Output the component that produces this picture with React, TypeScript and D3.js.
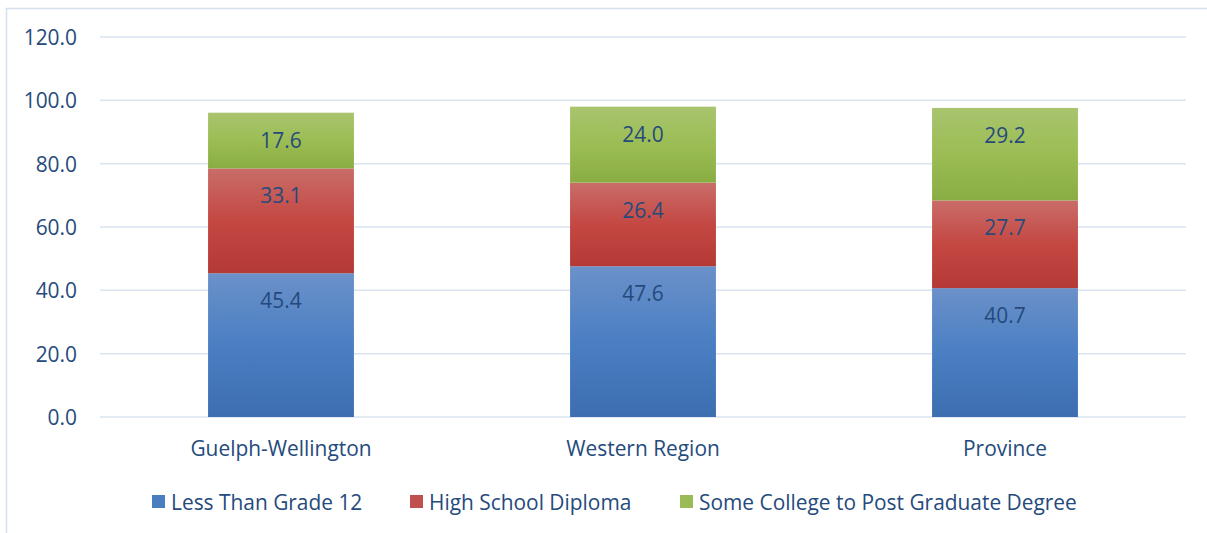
import React from "react";
import * as d3 from "d3";

const categories = ["Guelph-Wellington", "Western Region", "Province"];
const seriesNames = ["Less Than Grade 12", "High School Diploma", "Some College to Post Graduate Degree"];
const lessThanGrade12 = [45.4, 47.6, 40.7];
const highSchoolDiploma = [33.1, 26.4, 27.7];
const someCollege = [17.6, 24.0, 29.2];
const yTicks = [0, 20, 40, 60, 80, 100, 120];

const seriesValues = [lessThanGrade12, highSchoolDiploma, someCollege];
const gradients = [
  { id: "gBlue", top: "#6b91c9", mid: "#4a7fc3", bot: "#3c6eb0", legend: "#4a7ebf" },
  { id: "gRed", top: "#c96d69", mid: "#c44742", bot: "#b43a36", legend: "#c0504d" },
  { id: "gGreen", top: "#a9c46e", mid: "#9bbd54", bot: "#8aad43", legend: "#9bbb59" },
];

const W = 1207;
const H = 533;
const FONT = "'Open Sans', 'Noto Sans', sans-serif";
const TEXT = "#254a7c";
const FS = 20.9;

export default function App() {
  const x = d3.scaleBand<string>().domain(categories).range([100, 1186]).paddingInner(0.597).paddingOuter(0.2985);
  const y = d3.scaleLinear().domain([0, 120]).range([417, 37]);

  const rows = categories.map((c, i) => {
    const o: any = { cat: c };
    seriesNames.forEach((s, j) => (o[s] = seriesValues[j][i]));
    return o;
  });
  const stacked = d3.stack<any>().keys(seriesNames)(rows);

  const legendItems = [
    { x: 152, textX: 171 },
    { x: 410, textX: 429 },
    { x: 680, textX: 699 },
  ];

  return (
    <svg width={W} height={H} style={{ position: "absolute", left: 0, top: 0 }} fontFamily={FONT}>
      <defs>
        {gradients.map((g) => (
          <linearGradient key={g.id} id={g.id} x1="0" y1="0" x2="0" y2="1">
            <stop offset="0%" stopColor={g.top} />
            <stop offset="50%" stopColor={g.mid} />
            <stop offset="100%" stopColor={g.bot} />
          </linearGradient>
        ))}
      </defs>
      <rect x={0} y={0} width={W} height={H} fill="#ffffff" />
      <rect x={6.5} y={8.5} width={W + 10} height={H + 10} fill="none" stroke="#d5e0ef" strokeWidth={1.5} />
      {yTicks.map((t) => (
        <g key={t}>
          <line x1={100} x2={1186} y1={y(t)} y2={y(t)} stroke="#d9e3f1" strokeWidth={1.5} />
          <text x={77} y={y(t)} textAnchor="end" dominantBaseline="central" fontSize={FS} fill={TEXT}>
            {t.toFixed(1)}
          </text>
        </g>
      ))}
      {stacked.map((layer, si) => (
        <g key={layer.key}>
          {layer.map((d, ci) => {
            const bx = x(categories[ci])!;
            const top = y(d[1]);
            const bot = y(d[0]);
            return (
              <g key={ci}>
                <rect x={bx} y={top} width={x.bandwidth()} height={bot - top} fill={`url(#${gradients[si].id})`} />
                <text
                  x={bx + x.bandwidth() / 2}
                  y={top + 27}
                  textAnchor="middle"
                  dominantBaseline="central"
                  fontSize={FS}
                  fill={TEXT}
                >
                  {seriesValues[si][ci].toFixed(1)}
                </text>
              </g>
            );
          })}
        </g>
      ))}
      {categories.map((c) => (
        <text
          key={c}
          x={x(c)! + x.bandwidth() / 2}
          y={448}
          textAnchor="middle"
          dominantBaseline="central"
          fontSize={FS}
          fill={TEXT}
        >
          {c}
        </text>
      ))}
      {seriesNames.map((s, i) => (
        <g key={s}>
          <rect x={legendItems[i].x} y={495} width={13} height={13} fill={gradients[i].legend} />
          <text x={legendItems[i].textX} y={501.5} dominantBaseline="central" fontSize={FS} fill={TEXT}>
            {s}
          </text>
        </g>
      ))}
    </svg>
  );
}
